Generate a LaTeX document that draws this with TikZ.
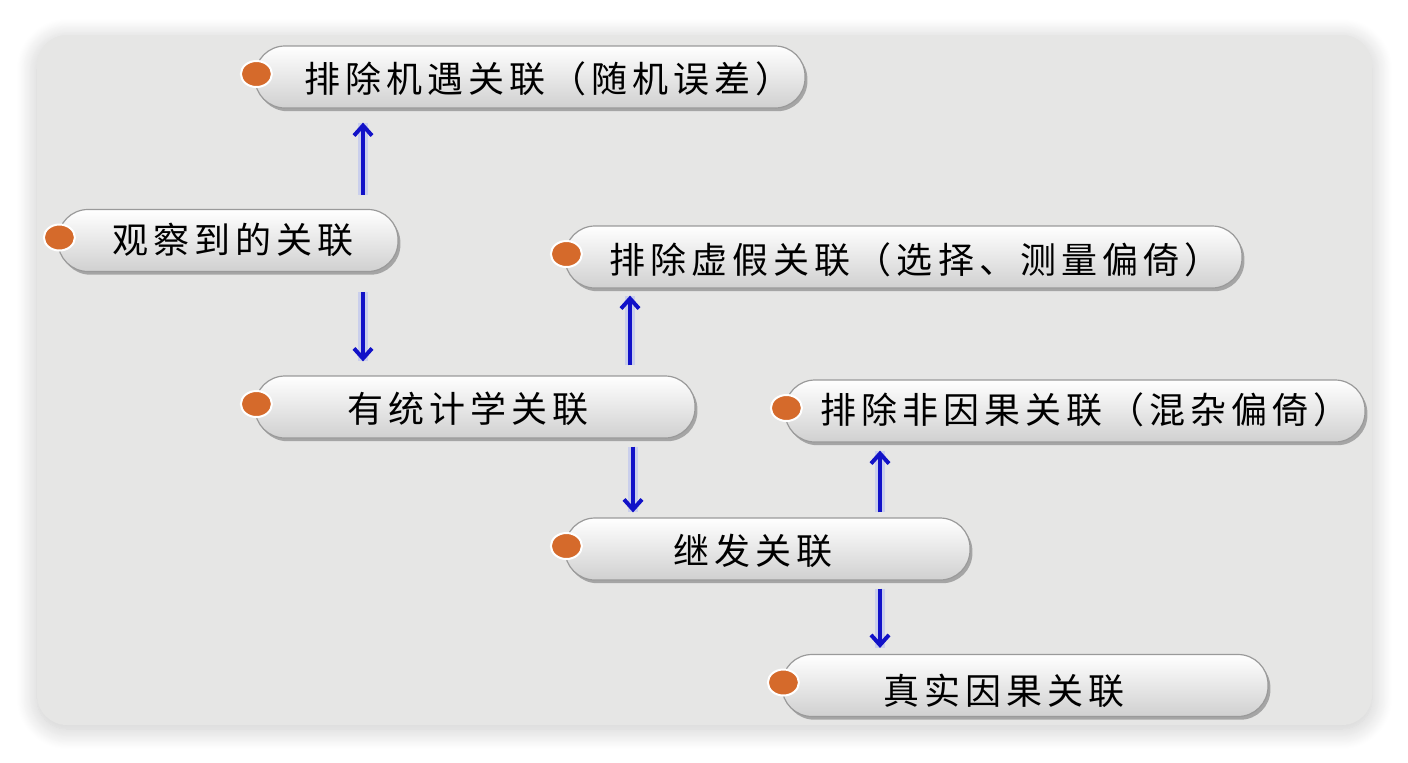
\documentclass[tikz,border=0pt]{standalone}
\usepackage{fontspec}
\newfontfamily\cjk{Noto Sans CJK SC}[LetterSpace=14]
\usetikzlibrary{shadows,shadows.blur,calc,arrows.meta,shapes.geometric}
\definecolor{bggray}{HTML}{E6E6E5}
\definecolor{dotorange}{HTML}{D56A2B}
\definecolor{arrblue}{HTML}{1212C8}
\definecolor{glowblue}{HTML}{8A9AFF}
\definecolor{pillrim}{HTML}{9A9A9A}
\definecolor{pillbot}{HTML}{D0D0D0}
\begin{document}
\begin{tikzpicture}[x=0.5pt,y=-0.5pt,
 pill/.style={rectangle, rounded corners=15pt, minimum height=31pt, inner sep=0pt,
   draw=pillrim, line width=0.6pt, top color=white, bottom color=pillbot,
   drop shadow={shadow xshift=1.2pt, shadow yshift=-1.6pt, fill=gray!75, opacity=0.9}},
 dot/.style={ellipse, minimum width=15.5pt, minimum height=13pt, inner sep=0pt,
   fill=dotorange, draw=white, line width=1pt},
 lbl/.style={font=\cjk\fontsize{18pt}{21pt}\selectfont, inner sep=0pt, text=black},
 arr/.style={draw=arrblue, line width=2pt, -{Straight Barb[length=5pt,width=9pt]},
   preaction={draw=glowblue, line width=5pt, opacity=0.3, arrows=-}},
]
\useasboundingbox (0,0) rectangle (1408,762);
\fill[bggray, rounded corners=15pt,
  blur shadow={shadow xshift=0pt, shadow yshift=-2pt, shadow blur radius=10pt,
    shadow blur steps=25, shadow opacity=22}]
  (37,35) rectangle (1372,725);

% pills
\node[pill, minimum width=275pt]   (p1) at (530,77) {};
\node[pill, minimum width=170pt]   (p2) at (228,240.5) {};
\node[pill, minimum width=338.5pt] (p3) at (903.5,257) {};
\node[pill, minimum width=220pt]   (p4) at (475,407) {};
\node[pill, minimum width=290pt]   (p5) at (1075,411) {};
\node[pill, minimum width=202.5pt] (p6) at (767.5,549) {};
\node[pill, minimum width=243pt]   (p7) at (1025,685.5) {};

% dots
\node[dot] (d1) at ($(p1.west)+(2,-3)$) {};
\node[dot] (d2) at ($(p2.west)+(2,-3)$) {};
\node[dot] (d3) at ($(p3.west)+(2,-3)$) {};
\node[dot] (d4) at ($(p4.west)+(2,-3)$) {};
\node[dot] (d5) at ($(p5.west)+(2,-3)$) {};
\node[dot] (d6) at ($(p6.west)+(2,-3)$) {};
\node[dot] (d7) at ($(p7.west)+(2,-3)$) {};

% labels
\node[lbl] (t1) at (548,79)  {排除机遇关联（随机误差）};
\node[lbl] (t2) at (233,240) {观察到的关联};
\node[lbl] (t3) at (915,260) {排除虚假关联（选择、测量偏倚）};
\node[lbl] (t4) at (468,409) {有统计学关联};
\node[lbl] (t5) at (1085,410) {排除非因果关联（混杂偏倚）};
\node[lbl] (t6) at (753,551) {继发关联};
\node[lbl] (t7) at (1004,691) {真实因果关联};

% connectors
\coordinate (ax1) at (363,0);
\coordinate (ax3) at (630,0);
\coordinate (ax4) at (633,0);
\coordinate (ax5) at (880,0);
\draw[arr, shorten <=7pt, shorten >=7pt]   (p2.north -| ax1) -- (p1.south -| ax1);
\draw[arr, shorten <=10pt, shorten >=7pt]  (p2.south -| ax1) -- (p4.north -| ax1);
\draw[arr, shorten <=5pt, shorten >=3.5pt] (p4.north -| ax3) -- (p3.south -| ax3);
\draw[arr, shorten <=4pt, shorten >=2.5pt] (p4.south -| ax4) -- (p6.north -| ax4);
\draw[arr, shorten <=2.5pt, shorten >=4pt] (p6.north -| ax5) -- (p5.south -| ax5);
\draw[arr, shorten <=4pt, shorten >=3pt]   (p6.south -| ax5) -- (p7.north -| ax5);
\end{tikzpicture}
\end{document}
